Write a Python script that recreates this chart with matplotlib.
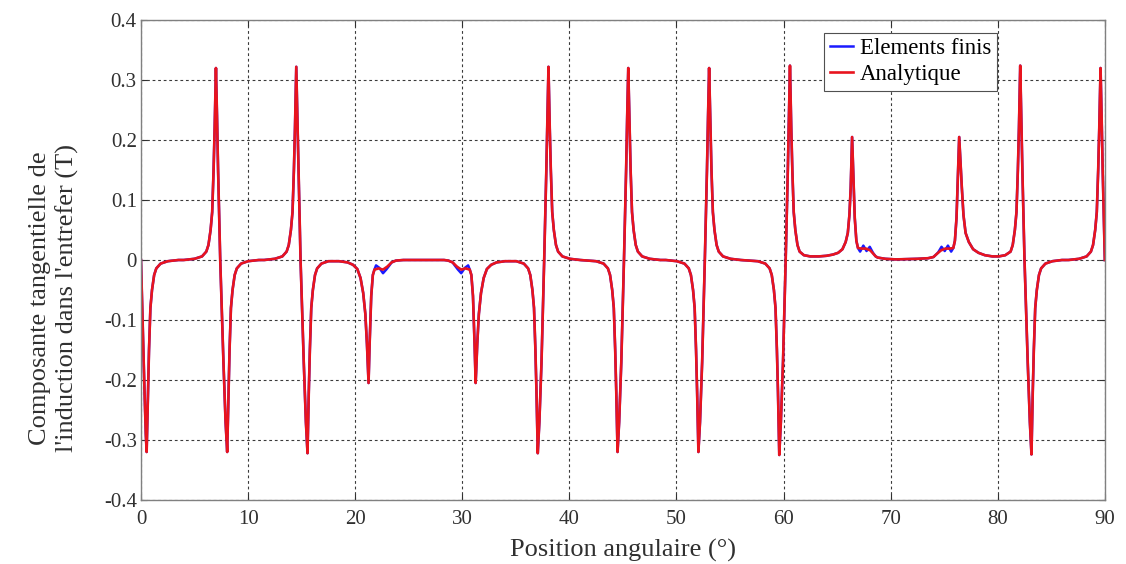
import numpy as np
import matplotlib
matplotlib.use("Agg")
import matplotlib.pyplot as plt

# ---- analytic curve (angle in deg, B_t in T) -----------------------------
angle = [
    0.0, 0.15, 0.3, 0.45, 0.53,
    0.58, 0.65, 0.75, 0.88, 1.03, 1.23, 1.43, 1.83, 2.5, 3.5,
    4.0, 5.0, 5.7, 6.1, 6.3, 6.5, 6.65, 6.78, 6.88, 6.95, 7.0,
    7.1, 7.2, 7.4, 7.7, 7.9, 8.05,
    8.1, 8.17, 8.27, 8.4, 8.55, 8.75, 8.95, 9.35, 10.0, 11.0,
    11.5, 12.5, 13.2, 13.6, 13.8, 14.0, 14.15, 14.28, 14.38, 14.45, 14.5,
    14.6, 14.7, 14.9, 15.2, 15.4, 15.55,
    15.6, 15.67, 15.77, 15.9, 16.05, 16.25, 16.45, 16.85, 17.5, 18.5, 19.3,
    19.8, 20.2, 20.5, 20.75, 20.95, 21.1, 21.2, 21.25,
    21.35, 21.5, 21.65, 21.8, 22.2, 22.6, 23.0, 23.4, 23.8, 24.5,
    28.3, 28.7, 29.1, 29.5, 29.9, 30.3, 30.7,
    30.85, 31.0, 31.15, 31.25,
    31.3, 31.4, 31.55, 31.75, 32.0, 32.3, 32.7, 33.2, 34.0,
    35.05, 35.75, 36.15, 36.35, 36.55, 36.7, 36.83, 36.93, 37.0, 37.05,
    37.2, 37.4, 37.65, 37.85, 37.95, 38.05,
    38.1, 38.17, 38.27, 38.4, 38.55, 38.75, 38.95, 39.35, 40.05, 41.0,
    42.5, 43.2, 43.6, 43.8, 44.0, 44.15, 44.28, 44.38, 44.45, 44.5,
    44.65, 44.85, 45.1, 45.3, 45.4, 45.5,
    45.55, 45.62, 45.72, 45.85, 46.0, 46.2, 46.4, 46.8, 47.5, 48.5,
    49.0, 50.05, 50.75, 51.15, 51.35, 51.55, 51.7, 51.83, 51.93, 52.0, 52.05,
    52.2, 52.4, 52.65, 52.85, 52.95, 53.05,
    53.1, 53.17, 53.27, 53.4, 53.55, 53.75, 53.95, 54.35, 55.05, 56.0,
    57.6, 58.3, 58.7, 58.9, 59.1, 59.25, 59.38, 59.48, 59.55, 59.6,
    59.75, 59.95, 60.2, 60.4, 60.5, 60.6,
    60.65, 60.72, 60.82, 60.95, 61.1, 61.3, 61.5, 61.9, 62.5, 63.3, 64.0,
    64.6, 65.1, 65.5, 65.8, 66.0, 66.15, 66.27, 66.35, 66.4,
    66.5, 66.65, 66.8, 66.95, 67.3, 67.7, 68.1, 68.4, 68.6, 68.8, 69.5, 70.5,
    72.5, 73.5, 74.0, 74.3, 74.7, 75.1, 75.5, 75.85,
    76.0, 76.15, 76.3, 76.4,
    76.5, 76.65, 76.8, 77.0, 77.3, 77.7, 78.2, 78.8, 79.5, 80.1, 80.7, 81.2,
    81.4, 81.6, 81.75, 81.88, 81.98, 82.05, 82.1,
    82.2, 82.3, 82.5, 82.8, 83.0, 83.15,
    83.2, 83.27, 83.37, 83.5, 83.65, 83.85, 84.05, 84.45, 85.1, 86.0,
    86.6, 87.6, 88.3, 88.7, 88.9, 89.1, 89.25, 89.38, 89.48, 89.55, 89.6,
    89.7, 89.8, 90.0,
]
b_analytic = [
    0.0, -0.1, -0.2, -0.29, -0.32,
    -0.28, -0.22, -0.15, -0.08, -0.05, -0.025, -0.014, -0.006, -0.002, 0.0,
    0.0, 0.002, 0.006, 0.014, 0.025, 0.05, 0.08, 0.15, 0.22, 0.28, 0.32,
    0.24, 0.15, 0.0, -0.17, -0.27, -0.32,
    -0.28, -0.22, -0.15, -0.08, -0.05, -0.025, -0.014, -0.006, -0.002, 0.0,
    0.0, 0.002, 0.006, 0.014, 0.025, 0.05, 0.08, 0.15, 0.22, 0.28, 0.322,
    0.24, 0.15, 0.0, -0.17, -0.27, -0.322,
    -0.28, -0.22, -0.15, -0.08, -0.05, -0.025, -0.014, -0.006, -0.002, -0.002, -0.004,
    -0.008, -0.015, -0.03, -0.055, -0.09, -0.14, -0.185, -0.205,
    -0.14, -0.06, -0.025, -0.016, -0.014, -0.016, -0.011, -0.004, -0.001, 0.0,
    0.0, -0.001, -0.004, -0.011, -0.016, -0.014, -0.016,
    -0.025, -0.06, -0.14, -0.205,
    -0.185, -0.14, -0.09, -0.055, -0.03, -0.015, -0.008, -0.004, -0.002,
    -0.002, -0.006, -0.014, -0.025, -0.05, -0.08, -0.15, -0.22, -0.28, -0.322,
    -0.27, -0.17, 0.0, 0.15, 0.24, 0.322,
    0.28, 0.22, 0.15, 0.08, 0.05, 0.025, 0.014, 0.006, 0.002, 0.0,
    -0.002, -0.006, -0.014, -0.025, -0.05, -0.08, -0.15, -0.22, -0.28, -0.32,
    -0.27, -0.17, 0.0, 0.15, 0.24, 0.32,
    0.28, 0.22, 0.15, 0.08, 0.05, 0.025, 0.014, 0.006, 0.002, 0.0,
    0.0, -0.002, -0.006, -0.014, -0.025, -0.05, -0.08, -0.15, -0.22, -0.28, -0.32,
    -0.27, -0.17, 0.0, 0.15, 0.24, 0.32,
    0.28, 0.22, 0.15, 0.08, 0.05, 0.025, 0.014, 0.006, 0.002, 0.0,
    -0.002, -0.006, -0.014, -0.025, -0.05, -0.08, -0.15, -0.22, -0.28, -0.325,
    -0.27, -0.17, 0.0, 0.15, 0.24, 0.324,
    0.28, 0.22, 0.15, 0.08, 0.05, 0.025, 0.014, 0.008, 0.006, 0.006, 0.007,
    0.009, 0.012, 0.018, 0.03, 0.045, 0.075, 0.12, 0.17, 0.205,
    0.15, 0.07, 0.032, 0.02, 0.019, 0.019, 0.016, 0.01, 0.006, 0.004, 0.002, 0.001,
    0.002, 0.003, 0.005, 0.01, 0.016, 0.019, 0.019, 0.02,
    0.032, 0.07, 0.15, 0.205,
    0.17, 0.12, 0.075, 0.045, 0.03, 0.018, 0.012, 0.008, 0.006, 0.006, 0.008, 0.014,
    0.025, 0.05, 0.08, 0.15, 0.22, 0.28, 0.324,
    0.24, 0.15, 0.0, -0.17, -0.27, -0.324,
    -0.28, -0.22, -0.15, -0.08, -0.05, -0.025, -0.014, -0.006, -0.002, 0.0,
    0.0, 0.002, 0.006, 0.014, 0.025, 0.05, 0.08, 0.15, 0.22, 0.28, 0.32,
    0.24, 0.15, 0.0,
]

# finite-element result: same as analytic except these small ripples
fem_ripple_x = [
    [21.8, 21.95, 22.25, 22.6, 22.9, 23.2, 23.4],
    [29.1, 29.3, 29.6, 29.9, 30.25, 30.55, 30.7],
    [66.95, 67.15, 67.45, 67.75, 68.05, 68.35, 68.6],
    [74.3, 74.45, 74.75, 75.05, 75.35, 75.65, 75.85],
]
fem_ripple_y = [
    [-0.016, -0.009, -0.013, -0.022, -0.016, -0.009, -0.004],
    [-0.004, -0.009, -0.016, -0.022, -0.013, -0.009, -0.016],
    [0.02, 0.014, 0.024, 0.015, 0.022, 0.012, 0.006],
    [0.01, 0.013, 0.022, 0.015, 0.024, 0.014, 0.02],
]

x_ticks = [0, 10, 20, 30, 40, 50, 60, 70, 80, 90]
y_ticks = [-0.4, -0.3, -0.2, -0.1, 0, 0.1, 0.2, 0.3, 0.4]
y_ticklabels = ["-0.4", "-0.3", "-0.2", "-0.1", "0", "0.1", "0.2", "0.3", "0.4"]

# ---- build FEM series ----------------------------------------------------
ang = np.array(angle)
ba = np.array(b_analytic)
keep = np.ones(len(ang), bool)
for rx in fem_ripple_x:
    keep &= ~((ang >= rx[0]) & (ang <= rx[-1]))
pts = list(zip(ang[keep], ba[keep]))
for rx, ry in zip(fem_ripple_x, fem_ripple_y):
    pts += list(zip(rx, ry))
pts.sort()
fem_x = [p[0] for p in pts]
fem_y = [p[1] for p in pts]

# ---- plot ---------------------------------------------------------------
plt.rcParams["font.family"] = ["Liberation Serif", "DejaVu Serif"]

fig = plt.figure(figsize=(11.26, 5.64), dpi=100)
ax = fig.add_axes([0.1252, 0.1135, 0.856, 0.851])

ax.plot(fem_x, fem_y, color="#1a1aff", lw=1.8, label="Elements finis")
ax.plot(ang, ba, color="#e8141e", lw=1.9, label="Analytique")

ax.set_xlim(0, 90)
ax.set_ylim(-0.4, 0.4)
ax.set_xticks(x_ticks)
ax.set_yticks(y_ticks)
ax.set_yticklabels(y_ticklabels)
ax.tick_params(direction="in", length=4, labelsize=15, colors="#303030",
               top=True, right=True)
ax.tick_params(axis="x", pad=7)
ax.tick_params(axis="y", pad=3)
ax.grid(True, color="#3a3a3a", lw=0.8, linestyle=(0, (2.5, 2.5)))
for s in ax.spines.values():
    s.set_color("#808080")
    s.set_linewidth(1.0)

ax.set_xlabel("Position angulaire (°)", fontsize=19, color="#303030")
ax.set_ylabel("Composante tangentielle de\nl'induction dans l'entrefer (T)",
              fontsize=19, color="#303030", linespacing=1.25)
ax.yaxis.set_label_coords(-0.064, 0.42)
ax.xaxis.set_label_coords(0.5, -0.082)

leg = ax.legend(loc="upper right", bbox_to_anchor=(0.888, 0.974),
                fontsize=16.5, handlelength=1.0, handletextpad=0.3,
                borderpad=0.25, labelspacing=0.2, borderaxespad=0,
                fancybox=False, framealpha=1, edgecolor="#505050")
leg.get_frame().set_linewidth(0.8)

fig.savefig("out.png", dpi=100)
